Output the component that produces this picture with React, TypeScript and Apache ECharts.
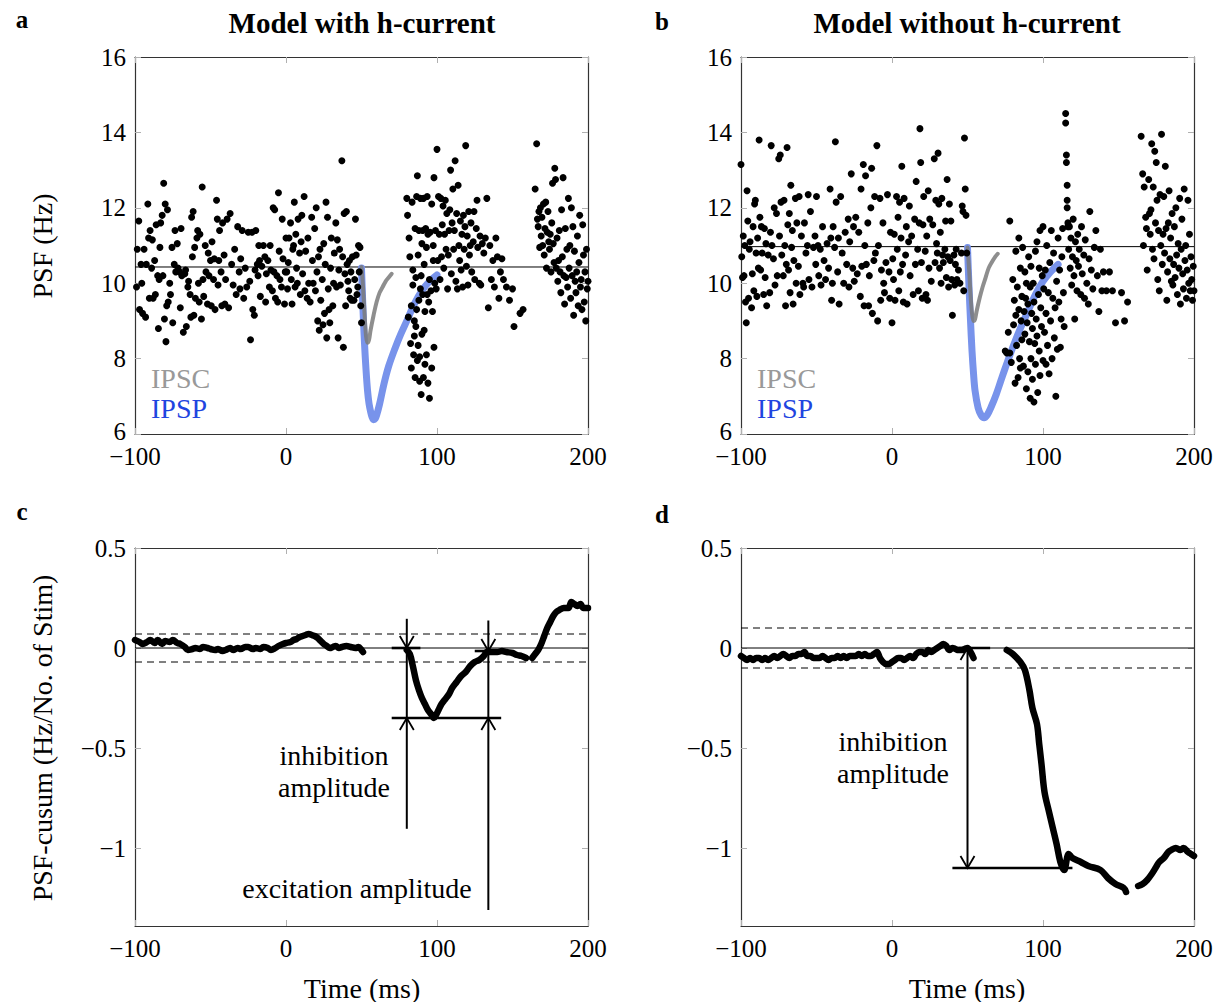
import React, { useEffect, useRef } from 'react';
import * as echarts from 'echarts';

// ---------- axis ticks ----------
const X_MIN = -100;
const X_MAX = 200;
const X_STEP = 100;
const PSF_MIN = 6;
const PSF_MAX = 16;
const PSF_STEP = 2;
const CUSUM_MIN = -1.39;
const CUSUM_MAX = 0.5;
const CUSUM_TICKS = [-1, -0.5, 0, 0.5];

// ---------- reference levels ----------
const MEAN_A = 10.43;
const MEAN_B = 10.97;
const BAND_C = 0.07;
const BAND_D = 0.1;

// ---------- panel a: PSF scatter (model with h-current) ----------
const SCATTER_A: number[][] = [
  [-99,9.9],[-98.5,10.9],[-97.5,11.65],[-97,9.3],[-96,10.5],[-95.5,10.0],[-95,9.2],[-94,10.9],[-93,9.1],[-92.5,10.5],[-91.5,12.1],[-91,11.2],[-90.5,9.6],[-90,11.4],[-89,10.4],[-88.5,11.15],[-88,9.6],[-87,10.6],[-86.5,9.7],[-86,11.55],[-85,10.2],[-84.5,8.8],[-84,10.1],[-83.5,10.95],[-83,11.6],[-82,11.8],[-81.5,10.2],[-81,12.65],[-80.5,9.05],[-80,12.1],[-79.5,8.45],[-79,9.4],[-78.5,11.95],[-78,9.5],[-77,10.0],[-76.5,9.7],[-75.5,10.95],[-75,8.95],[-74,10.5],[-73.5,11.4],[-73,10.3],[-72,11.05],[-71.5,10.4],[-70.5,10.3],[-70,9.35],[-69.5,11.45],[-69,10.2],[-68,8.7],[-67,10.25],[-66.5,10.35],[-66,8.85],[-65,9.9],[-64.5,10.05],[-63.5,9.7],[-63,9.1],[-62.5,11.75],[-62,10.7],[-61.5,11.9],[-61,9.15],[-60.5,10.95],[-60,9.6],[-59,11.2],[-58.5,11.4],[-58,10.0],[-57.5,9.5],[-57,11.3],[-56,9.05],[-55.5,12.55],[-55,10.1],[-54.5,9.65],[-53.5,11.0],[-53,10.3],[-52,9.45],[-51.5,10.8],[-51,10.2],
  [-50,10.6],[-49.5,9.4],[-49,11.1],[-48,10.1],[-47.5,10.65],[-47,9.3],[-46,12.2],[-45.5,11.7],[-45,9.95],[-44.5,10.6],[-44,11.4],[-43,10.3],[-42.5,9.4],[-42,11.6],[-41,10.75],[-40.5,9.45],[-40,10.1],[-39,11.7],[-38,9.35],[-37,11.85],[-36,10.5],[-35,9.95],[-34,10.9],[-33,9.7],[-32,11.5],[-31,10.3],[-30.5,9.85],[-30,10.65],[-29,11.4],[-28,9.6],[-27,10.4],[-26,9.9],[-25,11.35],[-24,10.05],[-23.5,8.5],[-22.5,11.35],[-22,9.3],[-21,9.15],[-20.5,10.35],[-20,11.4],[-19,10.5],[-18.5,10.2],[-18,11.0],[-17.5,10.6],[-17,9.65],[-16,10.45],[-15,11.0],[-14,10.7],[-13.5,9.5],[-13,10.25],[-12,10.6],[-11,9.9],[-10.5,11.0],[-10,10.35],[-9,9.8],[-8.5,12.0],[-8,10.3],[-7.5,11.95],[-7,9.6],[-6,10.2],[-5.5,9.5],[-5,12.4],[-4.5,10.85],[-4,10.1],[-3,9.9],[-2.5,11.7],[-2,10.65],[-1,9.45],[-0.5,10.3],
  [0,11.2],[0.5,10.3],[1,9.85],[1.5,10.55],[2,11.2],[3,11.6],[3.5,10.1],[4,9.45],[4.5,10.9],[5,11.0],[5.5,12.15],[6,9.9],[6.5,11.3],[7,10.4],[7.5,10.0],[8,11.7],[9,10.8],[9.5,9.7],[10,11.1],[10.5,11.8],[11,10.25],[12,12.3],[12.5,9.8],[13,10.85],[14,9.6],[14.5,11.2],[15,10.0],[16,9.5],[17,11.75],[17.5,10.6],[18,10.0],[19,11.45],[19.5,9.8],[20,12.0],[20.5,10.3],[21,9.0],[21.5,10.7],[22,8.75],[22.5,10.9],[23,9.55],[24,10.1],[24.5,8.9],[25,11.05],[25.5,9.2],[26,10.5],[26.5,12.15],[27,8.55],[27.5,11.75],[28,9.85],[28.5,9.3],[29,8.95],[29.5,10.4],[30,11.2],[31,9.4],[31.5,10.0],[32,10.8],[33,11.6],[33.5,9.9],[34,11.15],[34.5,8.55],[35,10.35],[35.5,10.9],[36,9.95],[37,13.25],[37.5,10.7],[38,8.3],[38.5,11.85],[39,10.25],[39.5,9.4],[40,11.9],[40.5,10.5],[41,10.05],[41.5,9.8],[42,10.6],[42.5,9.6],[43,10.3],[43.5,9.55],[44,10.7],[45,9.55],[45.5,10.1],[46,11.7],[46.5,10.75],[47,9.7],[47.5,9.9],[48,11.0],[48.5,10.3],[49,10.95],[49.5,9.4],[50,8.95],
  [80,12.25],[80.5,11.8],[81,9.1],[81.5,11.2],[82,10.7],[82.5,8.4],[83,9.4],[83,7.75],[83.5,12.15],[84,10.35],[84,9.95],[84.5,8.1],[85,8.6],[85,9.0],[85.5,7.5],[85.5,11.45],[86,10.15],[86,8.85],[86.5,12.3],[86.5,9.3],[87,7.95],[87,12.85],[87.5,10.75],[87.5,8.35],[88,9.55],[88,11.4],[88.5,8.05],[88.5,7.4],[89,12.25],[89,9.85],[89.5,10.2],[89.5,7.05],[90,11.05],[90,8.65],[90.5,9.7],[90.5,11.4],[91,7.5],[91,12.25],[91.5,8.75],[91.5,10.5],[92,9.25],[92,7.85],[92.5,11.45],[93,10.95],[93,8.1],[93.5,12.3],[93.5,9.7],[94,7.35],[94,11.3],[94.5,9.5],[95,6.95],[95,10.1],[95.5,11.35],[96,9.8],[96.5,7.75],[96.5,12.1],[97,9.25],[97.5,11.0],[97.5,10.6],[98,8.3],[98,12.8],[98.5,10.0],[99,11.4],[99.5,9.85],
  [100,13.55],[100.5,10.6],[101,12.3],[101.5,11.3],[102,10.1],[102.5,12.25],[103,10.7],[103.5,11.55],[104,12.05],[104.5,10.4],[105,11.3],[105.5,12.2],[106,10.9],[106.5,11.85],[107,9.85],[107.5,10.75],[108,11.4],[108.5,11.95],[109,13.0],[109.5,10.25],[110,11.6],[110.5,12.5],[111,10.9],[111.5,11.4],[112,13.25],[112.5,10.05],[113,11.85],[113.5,9.85],[114,12.6],[114.5,11.0],[115,10.6],[115.5,11.65],[116,10.35],[116.5,11.3],[117,9.9],[117.5,11.8],[118,10.9],[118.5,11.5],[119,13.65],[119.5,10.45],[120,11.25],[120.5,9.95],[121,11.9],[121.5,10.75],[122,11.0],[122.5,11.6],[123,10.3],[124,11.1],[124.5,11.9],[125,10.1],[126,11.45],[126.5,12.2],[127,10.95],[128,10.0],[128.5,11.25],[129,9.95],[130,11.05],[131,10.8],[132,11.2],[133,12.25],[134,9.35],[135,11.0],[136,10.1],[137,10.6],[138,9.9],[139,11.2],[140,10.7],[141,9.6],[142,10.3],[143,10.65],[144,10.1],[146,9.9],[148,9.55],[150,9.85],[151,8.85],[155,9.2],[157,9.3],
  [165,12.5],[166,13.7],[166.5,11.7],[167,11.5],[167.5,11.9],[168,10.95],[168.5,12.0],[169,11.25],[169.5,11.75],[170,11.0],[170.5,12.1],[171,10.75],[171.5,11.45],[172,12.15],[172.5,10.4],[173,11.35],[173.5,11.9],[174,11.1],[174.5,10.9],[175,11.3],[175.5,10.3],[176,11.6],[176.5,12.65],[177,11.05],[177.5,10.55],[178,13.05],[178.5,12.75],[179,10.4],[179.5,11.2],[180,10.05],[180.5,10.6],[181,11.4],[181.5,10.3],[182,9.75],[182.5,11.95],[183,10.7],[183.5,12.8],[184,10.2],[184.5,9.45],[185,11.45],[185.5,10.15],[186,10.9],[186.5,9.9],[187,12.25],[187.5,10.4],[188,11.0],[188.5,9.6],[189,12.0],[189.5,10.2],[190,11.5],[190.5,9.15],[191,10.85],[191.5,10.05],[192,9.75],[192.5,10.3],[193,11.25],[193.5,9.4],[194,10.55],[194.5,11.8],[195,9.9],[195.5,10.1],[196,9.3],[196.5,11.55],[197,10.75],[197.5,9.5],[198,10.3],[198.5,9.0],[199,10.9],[199.5,9.85],[200,10.05],
];

// ---------- panel b: PSF scatter (model without h-current) ----------
const SCATTER_B: number[][] = [
  [-100,13.15],[-99.5,10.7],[-99,10.15],[-98.5,11.25],[-98,10.2],[-97.5,11.0],[-97,9.5],[-96.5,8.95],[-96,12.45],[-95.5,11.65],[-95,9.6],[-94.5,10.9],[-94,11.1],[-93,9.35],[-92.5,10.25],[-92,11.5],[-91.5,9.8],[-91,12.1],[-90.5,12.2],[-90,10.8],[-89.5,9.65],[-89,11.2],[-88.5,10.4],[-88,13.8],[-87.5,11.75],[-87,10.35],[-86.5,11.5],[-86,10.8],[-85,9.7],[-84.5,11.45],[-84,10.15],[-83.5,11.05],[-83,9.4],[-82,10.75],[-81,9.75],[-80.5,11.35],[-80,13.65],[-79.5,11.0],[-78.5,10.65],[-78,12.0],[-77.5,9.95],[-76.5,11.85],[-76,10.2],[-75,13.3],[-74.5,11.25],[-74,13.4],[-73.5,12.15],[-73,10.75],[-72,10.2],[-71.5,12.2],[-71,11.0],[-70.5,9.4],[-70,10.5],[-69.5,13.6],[-69,11.55],[-68.5,10.35],[-68,11.85],[-67.5,9.75],[-67,12.6],[-66.5,10.95],[-66,11.4],[-65.5,9.45],[-65,10.6],[-64,12.25],[-63.5,10.0],[-63,11.6],[-62,10.45],[-61.5,12.3],[-61,9.7],[-60,11.25],[-59,10.0],[-58.5,9.9],[-58,11.6],[-57,10.8],[-56,11.0],[-55.5,12.35],[-55,10.1],[-54,11.9],[-53,9.9],[-52,10.95],[-51,11.25],[-50.5,10.5],
  [-50,12.3],[-49,11.0],[-48.5,10.2],[-47.5,10.9],[-47,9.95],[-46,11.5],[-45,10.6],[-44,10.1],[-43,11.05],[-42,10.4],[-41,12.5],[-40.5,11.2],[-40,9.55],[-39.5,10.0],[-39,11.5],[-38,10.95],[-37.5,13.75],[-37,12.15],[-36,10.3],[-35.5,11.2],[-35,9.45],[-34,12.3],[-33,10.8],[-32,10.0],[-31,11.35],[-30,10.5],[-29,11.7],[-28.5,9.9],[-28,11.1],[-27,12.9],[-26,10.4],[-25.5,11.5],[-25,10.05],[-24,11.75],[-23,10.25],[-22,11.35],[-21,9.65],[-20.5,12.5],[-20,10.45],[-19,13.15],[-18.5,9.4],[-18,11.0],[-17.5,12.85],[-17,10.5],[-16,11.6],[-15.5,9.4],[-15,10.2],[-14,12.0],[-13.5,13.05],[-13,9.2],[-12,10.6],[-11.5,12.3],[-11,10.8],[-10,13.65],[-9.5,9.0],[-9,11.0],[-8,12.25],[-7.5,9.55],[-7,10.35],[-6,11.6],[-5.5,10.0],[-5,9.75],[-4,10.55],[-3,12.35],[-2,10.3],[-1.5,9.6],[-1,11.35],[0,8.95],[0.5,10.65],
  [1,10.1],[1.5,11.3],[2,9.55],[3,12.3],[3.5,10.9],[4,11.75],[4.5,9.8],[5,12.15],[5.5,10.3],[6,11.2],[6.5,13.1],[7,10.5],[7.5,9.5],[8,12.25],[9,10.75],[9.5,11.5],[10,9.45],[11,11.1],[11.5,12.05],[12,10.2],[13,11.25],[14,9.7],[15,11.7],[15.5,10.5],[16,12.7],[17,10.9],[17.5,9.8],[18,11.6],[18.5,14.1],[19,13.2],[19.5,10.55],[20,9.6],[20.5,11.55],[21,12.3],[22,10.85],[22.5,9.7],[23,11.25],[23.5,9.55],[24,12.45],[24.5,10.4],[25,11.7],[26,10.05],[27,11.55],[28,13.3],[28.5,10.55],[29,12.2],[29.5,11.05],[30,10.8],[30.5,13.45],[31,12.1],[31.5,10.4],[32,11.35],[32.5,10.0],[33,12.25],[33.5,10.75],[34,10.55],[35,10.9],[35.5,11.65],[36,10.15],[36.5,12.75],[37,10.7],[37.5,9.9],[38,12.1],[38.5,10.6],[39,11.65],[39.5,10.1],[40,9.15],[41,10.75],[41.5,9.95],[42,10.5],[42.5,10.9],[43,10.1],[44,10.35],[45,10.0],[46,10.8],[46.5,12.05],[47,11.9],[47.5,9.8],[48,13.85],[48.5,12.5],[49,11.8],[49.5,10.8],
  [75,8.2],[76,8.15],[77,8.7],[78,11.65],[78,8.15],[79,7.9],[80,10.1],[80.5,8.9],[81,9.55],[81.5,7.35],[82,10.85],[82,9.15],[82.5,8.35],[83,9.9],[83.5,7.5],[84,11.2],[84,9.3],[84.5,8.0],[85,10.4],[85,7.75],[85.5,9.0],[86,9.65],[86,8.5],[86.5,10.95],[87,7.8],[87.5,9.25],[88,10.3],[88,8.65],[88.5,9.6],[89,7.2],[89,10.0],[89.5,8.95],[90,9.45],[90,7.65],[90.5,10.7],[91,8.45],[91.5,9.9],[91.5,6.95],[92,8.0],[92,10.45],[92.5,9.2],[93,7.45],[93,8.8],[93.5,10.0],[94,6.85],[94,9.5],[94.5,8.4],[95,10.85],[95,7.85],[95.5,9.05],[96,8.6],[96,11.1],[96.5,7.1],[97,9.7],[97.5,8.2],[97.5,10.4],[98,7.55],[98,11.4],[98.5,9.35],[99,8.85],[99.5,10.2],[100,7.95],[100,11.5],[100.5,9.85],[101,8.7],[101.5,10.35],[102,7.85],[102,9.2],[102.5,11.0],[103,8.35],[103.5,9.75],[104,7.6],[104.5,10.55],[105,9.0],[105.5,11.4],[106,8.0],[106.5,9.6],[107,10.8],[107.5,8.55],[108,9.35],[108.5,7.0],[109,10.05],[109.5,8.25],[110,11.2],[110.5,9.5],[111,10.35],[111.5,8.3],[112,9.05],[112.5,10.7],[113,11.45],[113.5,9.75],[114,8.85],
  [115,14.5],[115,14.25],[115.5,13.4],[115.5,13.2],[116,12.6],[116,12.2],[116,12.0],[116.5,11.6],[116.5,11.5],[117,10.9],[117.5,11.5],[118,10.4],[118.5,11.2],[119,9.95],[119.5,10.7],[120,11.7],[120.5,10.2],[121,9.05],[121.5,11.1],[122,10.6],[122.5,9.8],[123,11.3],[123.5,10.45],[124,10.9],[125,9.7],[125.5,11.5],[126,10.25],[127,10.75],[127.5,9.6],[128,11.15],[129,10.0],[130,9.45],[130.5,10.65],[131,11.9],[132,10.35],[133,9.85],[134,10.95],[135,11.4],[136,10.2],[137,9.25],[138,10.9],[139,9.8],[140,10.3],[142,9.8],[144,10.3],[146,9.8],[148,8.95],[152,9.75],[154,9.0],[156,9.5],
  [165,13.9],[166,12.9],[166.5,11.0],[167,12.55],[168,11.75],[168.5,11.45],[169,10.35],[170,12.75],[170.5,11.85],[171,11.3],[171.5,11.95],[172,13.7],[172.5,10.9],[173,12.55],[173.5,10.65],[174,13.5],[174.5,11.6],[175,13.2],[175.5,12.2],[176,10.1],[176.5,11.4],[177,9.8],[177.5,12.35],[178,11.0],[178.5,13.95],[179,10.5],[179.5,11.3],[180,12.3],[180.5,10.8],[181,13.1],[181.5,11.45],[182,9.55],[182.5,10.3],[183,11.6],[183.5,12.45],[184,10.65],[184.5,11.2],[185,10.05],[185.5,11.85],[186,9.95],[186.5,10.5],[187,11.5],[187.5,10.15],[188,12.0],[188.5,10.75],[189,9.7],[189.5,11.05],[190,10.4],[190.5,12.25],[191,9.45],[191.5,10.9],[192,11.7],[192.5,10.25],[193,9.85],[193.5,12.5],[194,10.6],[194.5,11.0],[195,9.6],[195.5,10.35],[196,12.2],[196.5,10.0],[197,11.3],[197.5,9.8],[198,10.7],[198.5,10.1],[199,9.55],[199.5,10.45],[200,9.8],
];

// ---------- synaptic waveforms (scaled, in PSF units) ----------
const IPSC_A: number[][] = [[50,10.43],[51,9.9],[52,9.2],[53,8.6],[54,8.42],[55,8.5],[56,8.75],[58,9.15],[60,9.5],[62,9.75],[64,9.9],[66,10.05],[68,10.15],[70,10.25]];
const IPSP_A: number[][] = [[50,10.4],[51,9.3],[52,8.4],[53,7.7],[54,7.15],[55,6.8],[56,6.6],[57,6.45],[58,6.38],[59,6.4],[60,6.5],[62,6.8],[65,7.35],[68,7.8],[72,8.25],[76,8.65],[80,9.0],[85,9.45],[90,9.8],[95,10.05],[100,10.22]];
const IPSC_B: number[][] = [[50,10.95],[51,10.4],[52,9.7],[53,9.2],[54,9.0],[55,9.05],[56,9.25],[58,9.6],[60,9.9],[62,10.15],[64,10.4],[66,10.55],[68,10.68],[70,10.78]];
const IPSP_B: number[][] = [[50,10.95],[51,9.9],[52,9.0],[53,8.2],[54,7.6],[55,7.15],[57,6.7],[59,6.5],[61,6.43],[63,6.5],[66,6.75],[69,7.05],[72,7.4],[75,7.75],[80,8.3],[85,8.8],[90,9.25],[95,9.7],[100,10.05],[105,10.3],[110,10.5]];

// ---------- panel c: PSF-cusum (with h-current), three segments ----------
const CUSUM_C: number[][][] = [
  [[-100,0.04],[-97,0.03],[-95,0.02],[-92,0.03],[-90,0.04],[-87,0.025],[-85,0.04],[-82,0.02],[-80,0.035],[-77,0.03],[-75,0.04],[-72,0.025],[-70,0.02],[-67,0.005],[-65,-0.01],[-62,-0.005],[-60,0.0],[-57,-0.005],[-55,0.005],[-52,0.0],[-50,-0.005],[-47,-0.01],[-45,-0.005],[-42,-0.015],[-40,-0.01],[-37,0.0],[-35,-0.01],[-32,0.0],[-30,-0.005],[-27,0.005],[-25,0.005],[-22,-0.005],[-20,0.0],[-17,-0.005],[-15,0.005],[-12,0.0],[-10,-0.01],[-7,0.0],[-5,0.01],[-2,0.02],[0,0.025],[3,0.03],[5,0.04],[7,0.045],[9,0.055],[11,0.06],[13,0.065],[15,0.07],[17,0.065],[19,0.06],[21,0.05],[23,0.035],[25,0.02],[27,0.01],[29,0.0],[31,0.005],[33,0.01],[35,0.0],[37,0.005],[40,0.01],[43,0.005],[46,0.0],[48,0.005],[50,-0.01],[51,-0.02]],
  [[80,-0.01],[82,-0.03],[84,-0.09],[86,-0.16],[88,-0.21],[90,-0.25],[92,-0.28],[94,-0.31],[96,-0.33],[98,-0.35],[99,-0.34],[101,-0.31],[103,-0.28],[105,-0.26],[108,-0.23],[110,-0.2],[113,-0.17],[116,-0.14],[119,-0.12],[122,-0.09],[125,-0.07],[128,-0.06],[131,-0.04],[133,-0.02],[136,-0.02],[140,-0.02],[143,-0.015],[146,-0.02],[150,-0.025],[153,-0.035],[156,-0.04],[159,-0.05]],
  [[163,-0.05],[165,-0.03],[167,-0.01],[169,0.02],[171,0.06],[173,0.1],[175,0.13],[177,0.16],[179,0.18],[181,0.19],[184,0.2],[187,0.2],[189,0.23],[191,0.22],[193,0.21],[195,0.22],[197,0.2],[200,0.2]],
];

// ---------- panel d: PSF-cusum (without h-current), three segments ----------
const CUSUM_D: number[][][] = [
  [[-100,-0.04],[-98,-0.05],[-96,-0.06],[-94,-0.05],[-92,-0.06],[-90,-0.05],[-88,-0.05],[-86,-0.06],[-84,-0.05],[-82,-0.06],[-80,-0.05],[-78,-0.04],[-76,-0.05],[-74,-0.04],[-72,-0.03],[-70,-0.04],[-68,-0.05],[-66,-0.04],[-64,-0.04],[-62,-0.03],[-60,-0.03],[-58,-0.02],[-56,-0.04],[-54,-0.04],[-52,-0.05],[-50,-0.05],[-48,-0.05],[-46,-0.04],[-44,-0.05],[-42,-0.06],[-40,-0.05],[-38,-0.05],[-36,-0.04],[-34,-0.05],[-32,-0.04],[-30,-0.05],[-28,-0.04],[-26,-0.04],[-24,-0.04],[-22,-0.03],[-20,-0.04],[-18,-0.03],[-16,-0.04],[-14,-0.04],[-12,-0.03],[-10,-0.02],[-8,-0.05],[-6,-0.07],[-4,-0.08],[-2,-0.08],[0,-0.07],[2,-0.06],[4,-0.05],[6,-0.05],[8,-0.06],[10,-0.05],[12,-0.04],[14,-0.05],[16,-0.03],[18,-0.02],[20,-0.02],[22,-0.03],[24,-0.01],[26,-0.02],[28,-0.01],[30,0.0],[32,0.01],[34,0.02],[36,0.01],[38,-0.01],[40,0.0],[42,-0.005],[44,-0.01],[46,-0.01],[48,-0.005],[50,0.0],[52,-0.02],[54,-0.05]],
  [[76,-0.01],[80,-0.03],[85,-0.07],[88,-0.11],[91,-0.21],[93,-0.3],[96,-0.38],[97.5,-0.48],[99,-0.58],[101,-0.72],[104,-0.82],[106.5,-0.9],[109,-0.98],[111.5,-1.07],[114,-1.11],[117,-1.03],[119.5,-1.05],[125,-1.07],[130,-1.09],[138,-1.11],[143,-1.15],[148,-1.18],[153.5,-1.2],[155,-1.22]],
  [[163,-1.19],[166,-1.18],[169,-1.16],[172,-1.13],[174.5,-1.1],[177,-1.07],[180,-1.05],[183,-1.02],[185,-1.01],[188,-1.0],[191,-1.01],[193,-1.0],[196,-1.02],[198,-1.03],[200,-1.04]],
];

// ---------- annotation geometry (data units) ----------
// shafts: [x, yFrom, yTo]; levels: [xFrom, xTo, y]; heads: [x, yTip, direction(1 up, -1 down)]
const SHAFTS_C: number[][] = [[80, 0.146, -0.904], [134, 0.138, -1.31]];
const LEVELS_C: number[][] = [[70, 89, 0], [70, 142.5, -0.35], [125, 141, -0.015]];
const HEADS_C: number[][] = [[80, 0, -1], [80, -0.35, 1], [134, -0.015, -1], [134, -0.35, 1]];
const SHAFTS_D: number[][] = [[50, 0, -1.1]];
const LEVELS_D: number[][] = [[44, 65, 0], [40, 119.5, -1.1]];
const HEADS_D: number[][] = [[50, 0, 1], [50, -1.1, -1]];

const FONT = '"Liberation Serif", "Times New Roman", serif';
const fmt = (v: number) => (v < 0 ? '\u2212' + String(Math.abs(v)) : String(v));
// lowest PSF tick label sits just above the x tick labels
const fmtPsf = (v: number) => (v === PSF_MIN ? '{lo|' + fmt(v) + '}' : fmt(v));

const GRIDS = [
  { left: 135, top: 57, width: 453, height: 377 },
  { left: 741, top: 57, width: 453, height: 377 },
  { left: 135, top: 548, width: 453, height: 378 },
  { left: 741, top: 548, width: 453, height: 378 },
];

function buildOption(): any {
  const frame = { show: true, onZero: false, lineStyle: { color: '#333', width: 1.2 } };
  const tick = { show: true, inside: true, length: 6, lineStyle: { color: '#b0b0b0', width: 1 } };
  const label = { fontFamily: FONT, fontSize: 25, lineHeight: 20, color: '#000', margin: 9, formatter: fmt };
  const psfLabel = {
    ...label, formatter: fmtPsf,
    rich: { lo: { fontFamily: FONT, fontSize: 25, lineHeight: 16, color: '#000', padding: [0, 0, 5, 0] } },
  };

  const xAxis: any[] = [];
  const yAxis: any[] = [];
  for (let i = 0; i < 4; i++) {
    xAxis.push({ gridIndex: i, type: 'value', position: 'bottom', min: X_MIN, max: X_MAX, interval: X_STEP, axisLine: frame, axisTick: tick, axisLabel: { ...label, lineHeight: 18, margin: 13 }, splitLine: { show: false } });
  }
  for (let i = 0; i < 4; i++) {
    xAxis.push({ gridIndex: i, type: 'value', position: 'top', min: X_MIN, max: X_MAX, interval: X_STEP, axisLine: frame, axisTick: tick, axisLabel: { show: false }, splitLine: { show: false } });
  }
  for (let i = 0; i < 4; i++) {
    const top = i < 2;
    yAxis.push(top
      ? { gridIndex: i, type: 'value', position: 'left', min: PSF_MIN, max: PSF_MAX, interval: PSF_STEP, axisLine: frame, axisTick: tick, axisLabel: psfLabel, splitLine: { show: false } }
      : { gridIndex: i, type: 'value', position: 'left', min: CUSUM_MIN, max: CUSUM_MAX, axisLine: frame, axisTick: { ...tick, customValues: CUSUM_TICKS }, axisLabel: { ...label, customValues: CUSUM_TICKS }, splitLine: { show: false } });
  }
  for (let i = 0; i < 4; i++) {
    const top = i < 2;
    yAxis.push(top
      ? { gridIndex: i, type: 'value', position: 'right', min: PSF_MIN, max: PSF_MAX, interval: PSF_STEP, axisLine: frame, axisTick: tick, axisLabel: { show: false }, splitLine: { show: false } }
      : { gridIndex: i, type: 'value', position: 'right', min: CUSUM_MIN, max: CUSUM_MAX, axisLine: frame, axisTick: { ...tick, customValues: CUSUM_TICKS }, axisLabel: { show: false, customValues: CUSUM_TICKS }, splitLine: { show: false } });
  }

  const series: any[] = [];
  const hline = (i: number, y: number, dashed = false) => ({
    type: 'line', xAxisIndex: i, yAxisIndex: i, data: [[X_MIN, y], [X_MAX, y]], symbol: 'none', silent: true, z: 2,
    lineStyle: { color: '#000', width: 1, type: dashed ? [7, 5] : 'solid' },
  });
  const curve = (i: number, data: number[][], color: string, width: number, z: number, opacity = 1) => ({
    type: 'line', xAxisIndex: i, yAxisIndex: i, data, symbol: 'none', smooth: 0.35, silent: true, z,
    lineStyle: { color, width, opacity, cap: 'round', join: 'round' },
  });
  const scatter = (i: number, data: number[][]) => ({
    type: 'scatter', xAxisIndex: i, yAxisIndex: i, data, symbol: 'circle', symbolSize: 7, silent: true, z: 5,
    itemStyle: { color: '#000', opacity: 1 },
  });

  // panel a
  series.push(hline(0, MEAN_A));
  series.push(curve(0, IPSP_A, '#7893eb', 7, 3));
  series.push(curve(0, IPSC_A, '#7a7a7a', 4, 4, 0.85));
  series.push(scatter(0, SCATTER_A));
  // panel b
  series.push(hline(1, MEAN_B));
  series.push(curve(1, IPSP_B, '#7893eb', 7, 3));
  series.push(curve(1, IPSC_B, '#7a7a7a', 4, 4, 0.85));
  series.push(scatter(1, SCATTER_B));

  const shafts = (i: number, data: number[][]) => ({
    type: 'custom', xAxisIndex: i, yAxisIndex: i, data, silent: true, clip: false, z: 6, encode: { x: 0, y: [1, 2] },
    renderItem: (_p: any, api: any) => {
      const a = api.coord([api.value(0), api.value(1)]);
      const b = api.coord([api.value(0), api.value(2)]);
      return { type: 'line', shape: { x1: a[0], y1: a[1], x2: b[0], y2: b[1] }, style: { stroke: '#000', lineWidth: 2 } };
    },
  });
  const levels = (i: number, data: number[][]) => ({
    type: 'custom', xAxisIndex: i, yAxisIndex: i, data, silent: true, clip: false, z: 6, encode: { x: [0, 1], y: 2 },
    renderItem: (_p: any, api: any) => {
      const a = api.coord([api.value(0), api.value(2)]);
      const b = api.coord([api.value(1), api.value(2)]);
      return { type: 'line', shape: { x1: a[0], y1: a[1], x2: b[0], y2: b[1] }, style: { stroke: '#000', lineWidth: 2.6 } };
    },
  });
  const heads = (i: number, data: number[][]) => ({
    type: 'custom', xAxisIndex: i, yAxisIndex: i, data, silent: true, clip: false, z: 7, encode: { x: 0, y: 1 },
    renderItem: (_p: any, api: any) => {
      const p = api.coord([api.value(0), api.value(1)]);
      const d = api.value(2);
      const by = p[1] + d * 12;
      return { type: 'polyline', shape: { points: [[p[0] - 7, by], [p[0], p[1]], [p[0] + 7, by]] }, style: { stroke: '#000', lineWidth: 1.8, fill: null } };
    },
  });

  // panel c
  series.push(hline(2, 0));
  series.push(hline(2, BAND_C, true));
  series.push(hline(2, -BAND_C, true));
  CUSUM_C.forEach((seg) => series.push(curve(2, seg, '#000', 6.5, 4)));
  series.push(shafts(2, SHAFTS_C));
  series.push(levels(2, LEVELS_C));
  series.push(heads(2, HEADS_C));
  // panel d
  series.push(hline(3, 0));
  series.push(hline(3, BAND_D, true));
  series.push(hline(3, -BAND_D, true));
  CUSUM_D.forEach((seg) => series.push(curve(3, seg, '#000', 6.5, 4)));
  series.push(shafts(3, SHAFTS_D));
  series.push(levels(3, LEVELS_D));
  series.push(heads(3, HEADS_D));

  const txt = (x: number, y: number, text: string, extra: any = {}) => ({
    type: 'text', x, y, silent: true,
    style: { text, fontFamily: FONT, fontSize: 28, fill: '#000', textAlign: 'center', textVerticalAlign: 'middle', ...extra },
  });

  const graphic: any[] = [
    txt(22, 19, 'a', { fontWeight: 'bold', fontSize: 25 }),
    txt(662, 21, 'b', { fontWeight: 'bold', fontSize: 25 }),
    txt(22, 511, 'c', { fontWeight: 'bold', fontSize: 25 }),
    txt(662, 514, 'd', { fontWeight: 'bold', fontSize: 25 }),
    txt(362, 23, 'Model with h-current', { fontWeight: 'bold', fontSize: 29 }),
    txt(967, 23, 'Model without h-current', { fontWeight: 'bold', fontSize: 29 }),
    { ...txt(42, 246, 'PSF (Hz)'), rotation: Math.PI / 2 },
    { ...txt(42, 738, 'PSF-cusum (Hz/No. of Stim)'), rotation: Math.PI / 2 },
    txt(362, 988, 'Time (ms)'),
    txt(967, 988, 'Time (ms)'),
    txt(151, 378, 'IPSC', { textAlign: 'left', fill: '#999999' }),
    txt(151, 408, 'IPSP', { textAlign: 'left', fill: '#1f45e0' }),
    txt(757, 378, 'IPSC', { textAlign: 'left', fill: '#999999' }),
    txt(757, 408, 'IPSP', { textAlign: 'left', fill: '#1f45e0' }),
    txt(334, 771, 'inhibition\namplitude', { lineHeight: 32 }),
    txt(357, 888, 'excitation amplitude'),
    txt(893, 757, 'inhibition\namplitude', { lineHeight: 32 }),
  ];

  return {
    animation: false,
    backgroundColor: '#ffffff',
    grid: GRIDS,
    xAxis,
    yAxis,
    series,
    graphic,
  };
}

export default function App() {
  const ref = useRef<HTMLDivElement>(null);
  useEffect(() => {
    if (!ref.current) return;
    const chart = echarts.init(ref.current, null, { renderer: 'svg' });
    chart.setOption(buildOption());
    return () => chart.dispose();
  }, []);
  return <div ref={ref} style={{ position: 'absolute', left: 0, top: 0, width: 1229, height: 1002, background: '#fff' }} />;
}
